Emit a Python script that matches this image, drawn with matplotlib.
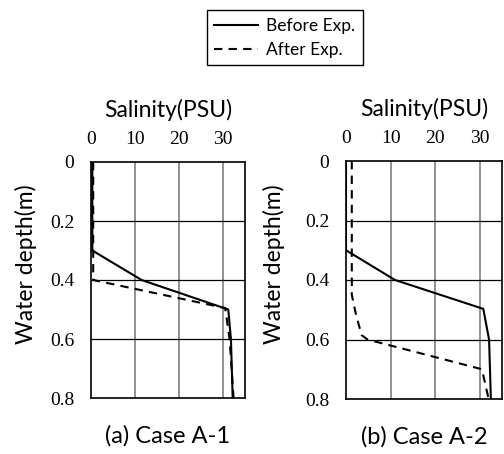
import matplotlib.pyplot as plt
from matplotlib.lines import Line2D

# Salinity profiles (PSU) vs water depth (m)
# Case A-1
a1_before_sal = [0.3, 0.3, 11.5, 31.2, 31.8, 32.2]
a1_before_dep = [0.0, 0.30, 0.40, 0.50, 0.60, 0.80]
a1_after_sal = [0.5, 0.5, 30.5, 31.5, 32.4]
a1_after_dep = [0.0, 0.40, 0.495, 0.60, 0.80]

# Case A-2
a2_before_sal = [0.0, 0.0, 11.0, 30.8, 32.1, 32.5]
a2_before_dep = [0.0, 0.30, 0.40, 0.497, 0.60, 0.80]
a2_after_sal = [1.3, 1.3, 2.3, 3.5, 4.8, 30.5, 32.0]
a2_after_dep = [0.0, 0.45, 0.52, 0.585, 0.60, 0.70, 0.80]

x_ticks = [0, 10, 20, 30]
x_tick_labels = ["0", "10", "20", "30"]
y_ticks = [0, 0.2, 0.4, 0.6, 0.8]
y_tick_labels = ["0", "0.2", "0.4", "0.6", "0.8"]
captions = ["(a) Case A-1", "(b) Case A-2"]

# tick numbers are serif, everything else a Calibri-like sans
plt.rcParams["font.family"] = ["Liberation Serif", "DejaVu Serif"]
SANS = ["Lato", "DejaVu Sans"]

fig = plt.figure(figsize=(5.04, 4.54), dpi=100)
ax1 = fig.add_axes([91 / 504, 1 - 398 / 454, 154 / 504, 236 / 454])
ax2 = fig.add_axes([346 / 504, 1 - 399 / 454, 156 / 504, 238 / 454])

panels = [
    (ax1, a1_before_sal, a1_before_dep, a1_after_sal, a1_after_dep, captions[0], -0.35),
    (ax2, a2_before_sal, a2_before_dep, a2_after_sal, a2_after_dep, captions[1], -0.39),
]

for ax, bs, bd, as_, ad, cap, ylab_x in panels:
    ax.plot(bs, bd, color="black", lw=1.5, ls="-", zorder=3)
    ax.plot(as_, ad, color="black", lw=1.5, ls=(0, (4, 3)), zorder=3)

    ax.set_xlim(0, 35)
    ax.set_ylim(0.8, 0)
    ax.xaxis.tick_top()
    ax.xaxis.set_label_position("top")
    ax.set_xticks(x_ticks)
    ax.set_xticklabels(x_tick_labels)
    ax.set_yticks(y_ticks)
    ax.set_yticklabels(y_tick_labels)
    ax.tick_params(axis="x", length=0, pad=10, labelsize=14)
    ax.tick_params(axis="y", length=0, pad=12, labelsize=14)

    for x in x_ticks[1:]:
        ax.axvline(x, color="#7f7f7f", lw=1.2, zorder=1)
    for y in y_ticks[1:-1]:
        ax.axhline(y, color="black", lw=0.9, zorder=1)

    for sp in ax.spines.values():
        sp.set_linewidth(1.2)

    ax.set_xlabel("Salinity(PSU)", fontsize=16.5, family=SANS, labelpad=10)
    ax.set_ylabel("Water depth(m)", fontsize=16.5, family=SANS)
    ax.yaxis.set_label_coords(ylab_x, 0.566)
    ax.text(0.5, -0.16, cap, transform=ax.transAxes, ha="center", va="center",
            fontsize=17, family=SANS)

handles = [
    Line2D([], [], color="black", lw=1.5, ls="-"),
    Line2D([], [], color="black", lw=1.5, ls=(0, (4, 3))),
]
fig.legend(handles, ["Before Exp.", "After Exp."], loc="upper center",
           bbox_to_anchor=(285 / 504, 1 - 10 / 454), frameon=True, fancybox=False,
           edgecolor="black", framealpha=1, handlelength=2.5, borderpad=0.45,
           borderaxespad=0, labelspacing=0.45, handletextpad=0.5,
           prop={"family": SANS, "size": 12.5})

fig.savefig("out.png", dpi=100)
